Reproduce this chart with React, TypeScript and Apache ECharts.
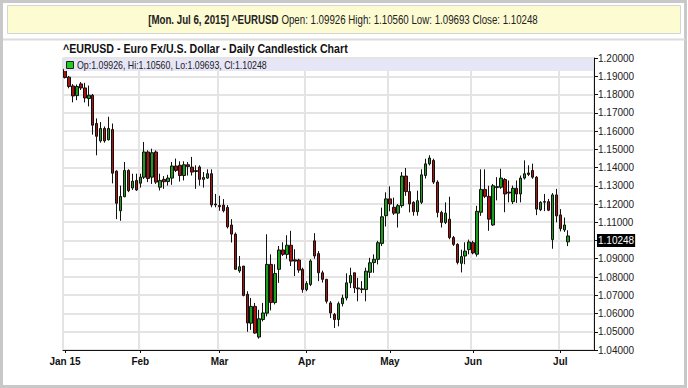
import React, { useEffect, useRef } from "react";
import * as echarts from "echarts";

// Trading days per month (2015)
const janDays = [6, 7, 8, 9, 12, 13, 14, 15, 16, 19, 20, 21, 22, 23, 26, 27, 28, 29, 30];
const febDays = [2, 3, 4, 5, 6, 9, 10, 11, 12, 13, 16, 17, 18, 19, 20, 23, 24, 25, 26, 27];
const marDays = [2, 3, 4, 5, 6, 9, 10, 11, 12, 13, 16, 17, 18, 19, 20, 23, 24, 25, 26, 27, 30, 31];
const aprDays = [1, 2, 6, 7, 8, 9, 10, 13, 14, 15, 16, 17, 20, 21, 22, 23, 24, 27, 28, 29, 30];
const mayDays = [1, 4, 5, 6, 7, 8, 11, 12, 13, 14, 15, 18, 19, 20, 21, 22, 25, 26, 27, 28, 29];
const junDays = [1, 2, 3, 4, 5, 8, 9, 10, 11, 12, 15, 16, 17, 18, 19, 22, 23, 24, 25, 26, 29, 30];
const julDays = [1, 2, 6];

// [open, high, low, close]
const janOHLC = [
  [1.1938, 1.1948, 1.1888, 1.1893], [1.1895, 1.1902, 1.1834, 1.1844], [1.1847, 1.1857, 1.1757, 1.1792],
  [1.1794, 1.1855, 1.1769, 1.1844], [1.1858, 1.1868, 1.1825, 1.1836], [1.1836, 1.1864, 1.1757, 1.1781],
  [1.1778, 1.1849, 1.1735, 1.1796], [1.1796, 1.1803, 1.1580, 1.1632], [1.1641, 1.1669, 1.1467, 1.1571],
  [1.1546, 1.1649, 1.1536, 1.1614], [1.1614, 1.1625, 1.1536, 1.1546], [1.1552, 1.1678, 1.1548, 1.1614],
  [1.1608, 1.1641, 1.1313, 1.1369], [1.1380, 1.1385, 1.1117, 1.1204], [1.1163, 1.1301, 1.1108, 1.1241],
  [1.1240, 1.1430, 1.1237, 1.1384], [1.1384, 1.1390, 1.1265, 1.1273], [1.1288, 1.1366, 1.1277, 1.1325],
  [1.1329, 1.1366, 1.1272, 1.1277],
];
const febOHLC = [
  [1.1314, 1.1366, 1.1290, 1.1347], [1.1347, 1.1540, 1.1337, 1.1485], [1.1485, 1.1494, 1.1320, 1.1340],
  [1.1347, 1.1503, 1.1310, 1.1481], [1.1485, 1.1494, 1.1310, 1.1320], [1.1292, 1.1366, 1.1274, 1.1329],
  [1.1335, 1.1353, 1.1283, 1.1322], [1.1323, 1.1360, 1.1301, 1.1342], [1.1342, 1.1430, 1.1305, 1.1408],
  [1.1408, 1.1449, 1.1375, 1.1384], [1.1412, 1.1434, 1.1323, 1.1356], [1.1356, 1.1434, 1.1329, 1.1415],
  [1.1415, 1.1430, 1.1356, 1.1405], [1.1402, 1.1458, 1.1356, 1.1375], [1.1378, 1.1412, 1.1283, 1.1383],
  [1.1403, 1.1412, 1.1301, 1.1335], [1.1335, 1.1375, 1.1290, 1.1345], [1.1342, 1.1390, 1.1338, 1.1366],
  [1.1366, 1.1390, 1.1182, 1.1195], [1.1200, 1.1255, 1.1182, 1.1195],
];
const marOHLC = [
  [1.1192, 1.1245, 1.1163, 1.1185], [1.1194, 1.1227, 1.1154, 1.1163], [1.1181, 1.1194, 1.1066, 1.1075],
  [1.1085, 1.1117, 1.0989, 1.1035], [1.1035, 1.1044, 1.0840, 1.0842], [1.0833, 1.0915, 1.0823, 1.0856],
  [1.0860, 1.0860, 1.0694, 1.0699], [1.0705, 1.0722, 1.0500, 1.0548], [1.0547, 1.0685, 1.0510, 1.0639],
  [1.0639, 1.0658, 1.0489, 1.0493], [1.0471, 1.0620, 1.0462, 1.0571], [1.0567, 1.0658, 1.0557, 1.0603],
  [1.0602, 1.1034, 1.0584, 1.0869], [1.0869, 1.0924, 1.0617, 1.0660], [1.0660, 1.0870, 1.0650, 1.0819],
  [1.0842, 1.0970, 1.0768, 1.0948], [1.0948, 1.0990, 1.0915, 1.0924], [1.0924, 1.1029, 1.0900, 1.0974],
  [1.0974, 1.1053, 1.0860, 1.0887], [1.0894, 1.0952, 1.0805, 1.0887], [1.0893, 1.0900, 1.0823, 1.0838],
  [1.0842, 1.0851, 1.0714, 1.0731],
];
const aprOHLC = [
  [1.0731, 1.0777, 1.0722, 1.0764], [1.0759, 1.0897, 1.0750, 1.0888], [1.0998, 1.1040, 1.0900, 1.0915],
  [1.0928, 1.0942, 1.0777, 1.0823], [1.0823, 1.0835, 1.0770, 1.0787], [1.0787, 1.0790, 1.0655, 1.0667],
  [1.0658, 1.0668, 1.0575, 1.0603], [1.0595, 1.0603, 1.0521, 1.0567], [1.0567, 1.0665, 1.0530, 1.0654],
  [1.0654, 1.0703, 1.0639, 1.0685], [1.0685, 1.0820, 1.0672, 1.0768], [1.0768, 1.0851, 1.0740, 1.0808],
  [1.0823, 1.0823, 1.0712, 1.0740], [1.0740, 1.0795, 1.0667, 1.0735], [1.0735, 1.0777, 1.0712, 1.0731],
  [1.0731, 1.0851, 1.0667, 1.0832], [1.0826, 1.0905, 1.0795, 1.0878], [1.0879, 1.0924, 1.0823, 1.0897],
  [1.0897, 1.0998, 1.0869, 1.0988], [1.0984, 1.1180, 1.0970, 1.1130], [1.1136, 1.1264, 1.1077, 1.1228],
];
const mayOHLC = [
  [1.1228, 1.1297, 1.1160, 1.1200], [1.1182, 1.1235, 1.1140, 1.1150], [1.1150, 1.1200, 1.1071, 1.1191],
  [1.1191, 1.1375, 1.1180, 1.1353], [1.1353, 1.1397, 1.1245, 1.1268], [1.1268, 1.1320, 1.1154, 1.1200],
  [1.1209, 1.1215, 1.1136, 1.1158], [1.1158, 1.1273, 1.1136, 1.1218], [1.1209, 1.1390, 1.1200, 1.1360],
  [1.1356, 1.1448, 1.1340, 1.1420], [1.1420, 1.1467, 1.1411, 1.1452], [1.1439, 1.1448, 1.1310, 1.1320],
  [1.1320, 1.1330, 1.1127, 1.1154], [1.1154, 1.1163, 1.1071, 1.1099], [1.1099, 1.1209, 1.1090, 1.1150],
  [1.1117, 1.1240, 1.1007, 1.1016], [1.1016, 1.1025, 1.0970, 1.0979], [1.0979, 1.0985, 1.0869, 1.0880],
  [1.0875, 1.0950, 1.0825, 1.0912], [1.0915, 1.0990, 1.0870, 1.0942], [1.0950, 1.1005, 1.0924, 1.0992],
];
const junOHLC = [
  [1.0988, 1.0998, 1.0924, 1.0932], [1.0925, 1.1190, 1.0912, 1.1160], [1.1155, 1.1390, 1.1135, 1.1280],
  [1.1280, 1.1390, 1.1233, 1.1242], [1.1242, 1.1300, 1.1053, 1.1117], [1.1085, 1.1310, 1.1080, 1.1300],
  [1.1295, 1.1347, 1.1220, 1.1290], [1.1292, 1.1393, 1.1283, 1.1342], [1.1334, 1.1342, 1.1155, 1.1255],
  [1.1265, 1.1329, 1.1209, 1.1260], [1.1213, 1.1301, 1.1200, 1.1286], [1.1286, 1.1329, 1.1206, 1.1255],
  [1.1255, 1.1356, 1.1209, 1.1342], [1.1342, 1.1439, 1.1334, 1.1366], [1.1370, 1.1412, 1.1353, 1.1362],
  [1.1384, 1.1421, 1.1338, 1.1347], [1.1347, 1.1353, 1.1139, 1.1172], [1.1169, 1.1215, 1.1161, 1.1209],
  [1.1213, 1.1255, 1.1161, 1.1210], [1.1213, 1.1228, 1.1161, 1.1166], [1.1005, 1.1260, 1.0955, 1.1250],
  [1.1250, 1.1283, 1.1100, 1.1135],
];
const julOHLC = [
  [1.1140, 1.1172, 1.1050, 1.1065], [1.1058, 1.1126, 1.1047, 1.1085], [1.09926, 1.1056, 1.09693, 1.10248],
];

const monthLabels = ["Jan 15", "Feb", "Mar", "Apr", "May", "Jun", "Jul"];
const yTickLabels = [1.04, 1.05, 1.06, 1.07, 1.08, 1.09, 1.1, 1.11, 1.12, 1.13, 1.14, 1.15, 1.16, 1.17, 1.18, 1.19, 1.2];
const headerDate = "[Mon. Jul 6, 2015]";
const symbol = "^EURUSD";
const chartTitle = "^EURUSD - Euro Fx/U.S. Dollar - Daily Candlestick Chart";
const emptySlots = 6;

const FONT = '"Liberation Sans", Arial, Helvetica, sans-serif';

export default function App() {
  const ref = useRef<HTMLDivElement>(null);

  useEffect(() => {
    if (!ref.current) return;
    const chart = echarts.init(ref.current, undefined, { renderer: "svg" });

    const monthDays = [janDays, febDays, marDays, aprDays, mayDays, junDays, julDays];
    const monthData = [janOHLC, febOHLC, marOHLC, aprOHLC, mayOHLC, junOHLC, julOHLC];
    const categories: string[] = [];
    const candles: number[][] = [];
    const labelAt: Record<number, string> = {};
    monthDays.forEach((days, m) => {
      labelAt[categories.length] = monthLabels[m];
      days.forEach((d, k) => {
        categories.push(`2015-${String(m + 1).padStart(2, "0")}-${String(d).padStart(2, "0")}`);
        const [o, h, l, c] = monthData[m][k];
        candles.push([o, c, l, h]);
      });
    });
    for (let i = 0; i < emptySlots; i++) categories.push(`pad${i}`);
    const last = julOHLC[julOHLC.length - 1];
    const [lo, lh, ll, lc] = last;
    const isMonth = (idx: number) => labelAt[idx] !== undefined;

    const gridColor = "#e4e4e4";

    chart.setOption({
      animation: false,
      backgroundColor: "#ffffff",
      grid: {
        left: 63,
        right: 94,
        top: 58,
        bottom: 38,
        show: true,
        borderColor: "#111",
        borderWidth: 1,
        backgroundColor: "#fff",
      },
      xAxis: {
        type: "category",
        data: categories,
        boundaryGap: true,
        axisLine: { show: true, lineStyle: { color: "#111", width: 1 } },
        axisTick: {
          show: true,
          alignWithLabel: true,
          interval: (idx: number) => isMonth(idx),
          length: 3,
          lineStyle: { color: "#111" },
        },
        axisLabel: {
          interval: (idx: number) => isMonth(idx),
          formatter: (_v: string, idx: number) => labelAt[idx] ?? "",
          fontFamily: FONT,
          fontSize: 10,
          fontWeight: "bold",
          color: "#111",
          margin: 6,
        },
        splitLine: {
          show: true,
          interval: (idx: number) => isMonth(idx),
          lineStyle: { color: gridColor, width: 2 },
        },
      },
      yAxis: {
        type: "value",
        position: "right",
        min: yTickLabels[0],
        max: yTickLabels[yTickLabels.length - 1],
        interval: 0.01,
        axisLine: { show: true, lineStyle: { color: "#111", width: 1 } },
        axisTick: { show: true, length: 4, lineStyle: { color: "#111" } },
        axisLabel: {
          formatter: (v: number) => (Math.abs(v - 1.1) < 1e-6 ? "" : v.toFixed(5)),
          fontFamily: FONT,
          fontSize: 10,
          color: "#222",
          margin: 4,
        },
        splitLine: { show: true, lineStyle: { color: gridColor, width: 2 } },
      },
      series: [
        {
          type: "candlestick",
          data: candles,
          barWidth: 3,
          itemStyle: {
            color: "#1a9f1a",
            color0: "#a8120f",
            borderColor: "#111",
            borderColor0: "#111",
            borderWidth: 1,
          },
          markLine: {
            silent: true,
            symbol: ["none", "none"],
            lineStyle: { color: "rgba(0,0,0,0)", width: 0 },
            label: {
              show: true,
              position: "end",
              distance: 3,
              formatter: lc.toFixed(5),
              backgroundColor: "#000",
              color: "#fff",
              fontFamily: FONT,
              fontSize: 10,
              padding: [2, 1, 1, 1],
            },
            data: [{ yAxis: lc }],
          },
        },
      ],
      graphic: [
        {
          type: "rect",
          z: 0,
          shape: { x: 1.5, y: 1.5, width: 684, height: 385 },
          style: { fill: "none", stroke: "#c8c8c8", lineWidth: 3 },
        },
        {
          type: "rect",
          shape: { x: 7.5, y: 5.5, width: 673, height: 28 },
          style: { fill: "#fdfbd2", stroke: "#d4d4d4", lineWidth: 1 },
        },
        {
          type: "text",
          x: 343,
          y: 19.5,
          scaleX: 0.81,
          style: {
            text: `{b|${headerDate} ${symbol}} Open: ${lo.toFixed(5)} High: ${lh.toFixed(5)} Low: ${ll.toFixed(5)} Close: ${lc.toFixed(5)}`,
            rich: { b: { fontWeight: "bold", fontFamily: FONT, fontSize: 12, fill: "#222" } },
            fontFamily: FONT,
            fontSize: 12,
            fill: "#222",
            align: "center",
            verticalAlign: "middle",
          },
        },
        {
          type: "line",
          shape: { x1: 3, y1: 39.5, x2: 685, y2: 39.5 },
          style: { stroke: "#dcdcdc", lineWidth: 2 },
        },
        {
          type: "text",
          x: 63,
          y: 48.5,
          scaleX: 0.885,
          style: {
            text: chartTitle,
            fontFamily: FONT,
            fontSize: 12,
            fontWeight: "bold",
            fill: "#111",
            align: "left",
            verticalAlign: "middle",
          },
        },
        {
          type: "rect",
          z: 100,
          shape: { x: 64, y: 59, width: 529, height: 12 },
          style: { fill: "#e6e6f7" },
        },
        {
          type: "rect",
          z: 101,
          shape: { x: 66.5, y: 61.5, width: 7, height: 7 },
          style: { fill: "#22cc22", stroke: "#222", lineWidth: 1 },
        },
        {
          type: "text",
          z: 101,
          x: 77,
          y: 65.5,
          scaleX: 0.8,
          style: {
            text: `Op:${lo.toFixed(5)}, Hi:${lh.toFixed(5)}, Lo:${ll.toFixed(5)}, Cl:${lc.toFixed(5)}`,
            fontFamily: FONT,
            fontSize: 11,
            fill: "#222",
            align: "left",
            verticalAlign: "middle",
          },
        },
      ],
    });

    return () => chart.dispose();
  }, []);

  return (
    <div
      ref={ref}
      style={{ position: "fixed", left: 0, top: 0, width: 688, height: 388, background: "#fff" }}
    />
  );
}
